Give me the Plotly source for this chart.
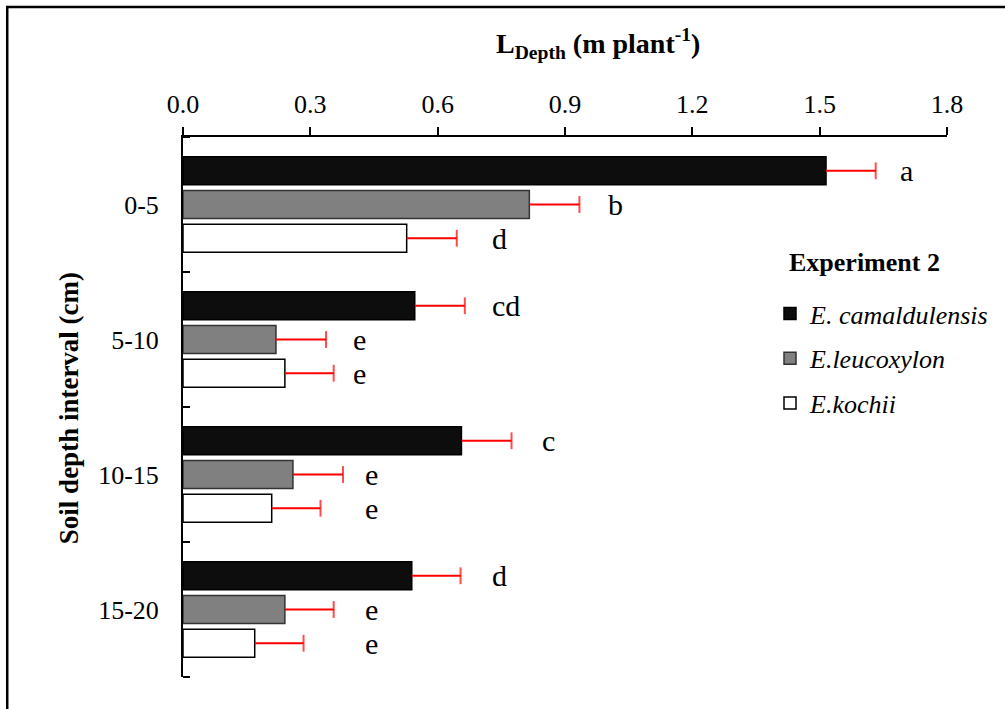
import plotly.graph_objects as go

# ---- data ----
groups = ["0-5", "5-10", "10-15", "15-20"]
series_names = ["E. camaldulensis", "E.leucoxylon", "E.kochii"]
camaldulensis = [1.515, 0.546, 0.656, 0.539]
leucoxylon = [0.816, 0.219, 0.259, 0.240]
kochii = [0.527, 0.240, 0.209, 0.169]
cam_err = [0.117, 0.118, 0.118, 0.115]
leu_err = [0.118, 0.118, 0.118, 0.115]
koc_err = [0.118, 0.115, 0.115, 0.115]
cam_letters = ["a", "cd", "c", "d"]
leu_letters = ["b", "e", "e", "e"]
koc_letters = ["d", "e", "e", "e"]
cam_letter_x = [1.704, 0.762, 0.861, 0.746]
leu_letter_x = [1.019, 0.416, 0.445, 0.445]
koc_letter_x = [0.746, 0.416, 0.445, 0.445]

values = [camaldulensis, leucoxylon, kochii]
errors = [cam_err, leu_err, koc_err]
letters = [cam_letters, leu_letters, koc_letters]
letter_x = [cam_letter_x, leu_letter_x, koc_letter_x]

# ---- style ----
FONT = "Liberation Serif, Times New Roman, serif"
fills = ["#0d0d0d", "#808080", "#ffffff"]
outlines = ["#000000", "#333333", "#000000"]
offsets = [-0.25, 0.0, 0.25]
bar_w = 0.207

fig = go.Figure()
for s in range(3):
    ys = [i + offsets[s] for i in range(len(groups))]
    fig.add_trace(go.Bar(
        x=values[s], y=ys, orientation="h", width=bar_w,
        name="<i>" + series_names[s] + "</i>",
        marker=dict(color=fills[s], line=dict(color=outlines[s], width=1.5)),
        legendgroup=str(s),
    ))
for s in range(3):
    xs, ys, sizes = [], [], []
    for i in range(len(groups)):
        yv = i + offsets[s]
        xs += [values[s][i], values[s][i] + errors[s][i], None]
        ys += [yv, yv, None]
        sizes += [0, 12, 0]
    fig.add_trace(go.Scatter(
        x=xs, y=ys, mode="lines+markers", showlegend=False, hoverinfo="skip",
        line=dict(color="#ff0000", width=1.8),
        marker=dict(symbol="line-ns", size=sizes, color="#ff0000",
                    line=dict(color="#ff0000", width=2)),
    ))

annotations = []
for s in range(3):
    for i in range(len(groups)):
        annotations.append(dict(
            x=letter_x[s][i], y=i + offsets[s], xref="x", yref="y",
            text=letters[s][i], showarrow=False, xanchor="center", yanchor="middle",
            font=dict(family=FONT, size=30, color="black"),
        ))

W, H = 1005, 709
L, R, T, B = 183, 57, 137, 32
pw, ph = W - L - R, H - T - B

def px_x(p):
    return (p - L) / pw

def px_y(p):
    return (H - B - p) / ph

annotations.append(dict(
    x=px_x(599), y=px_y(44), xref="paper", yref="paper",
    text="<b>L<sub>Depth</sub> (m plant<sup>-1</sup>)</b>", showarrow=False,
    xanchor="center", yanchor="middle",
    font=dict(family=FONT, size=28, color="black"),
))
annotations.append(dict(
    x=px_x(69), y=px_y(408), xref="paper", yref="paper",
    text="<b>Soil depth interval (cm)</b>", showarrow=False, textangle=-90,
    xanchor="center", yanchor="middle",
    font=dict(family=FONT, size=27, color="black"),
))
annotations.append(dict(
    x=px_x(788), y=px_y(262), xref="paper", yref="paper",
    text="<b>Experiment 2</b>", showarrow=False,
    xanchor="left", yanchor="middle",
    font=dict(family=FONT, size=26, color="black"),
))

fig.update_layout(
    width=W, height=H,
    margin=dict(l=L, r=R, t=T, b=B),
    paper_bgcolor="white", plot_bgcolor="white",
    barmode="overlay",
    font=dict(family=FONT, color="black"),
    annotations=annotations,
    showlegend=True,
    legend=dict(
        x=px_x(770), y=px_y(290), xanchor="left", yanchor="top",
        font=dict(family=FONT, size=26, color="black"),
        tracegroupgap=8, bgcolor="rgba(0,0,0,0)",
    ),
    shapes=[dict(
        type="rect", xref="paper", yref="paper",
        x0=px_x(7), x1=px_x(1100), y0=px_y(7), y1=px_y(800),
        line=dict(color="black", width=2.5), fillcolor="rgba(0,0,0,0)", layer="below",
    )],
)
fig.update_xaxes(
    side="top", range=[0, 1.8], dtick=0.3, tick0=0, tickformat=".1f",
    ticks="outside", ticklen=8, tickwidth=2, tickcolor="black",
    showline=True, linewidth=2, linecolor="black",
    showgrid=False, zeroline=False,
    tickfont=dict(family=FONT, size=26, color="black"),
    ticklabelstandoff=4,
)
fig.update_yaxes(
    range=[3.5, -0.5], tickvals=list(range(len(groups))), ticktext=groups,
    ticks="", showline=True, linewidth=2, linecolor="black",
    showgrid=False, zeroline=False,
    tickfont=dict(family=FONT, size=26, color="black"),
    ticklabelstandoff=17,
    minor=dict(tickvals=[i - 0.5 for i in range(len(groups) + 1)], ticks="inside",
               ticklen=7, tickwidth=1.5, tickcolor="black", showgrid=False),
)

fig.write_html("out.html")
